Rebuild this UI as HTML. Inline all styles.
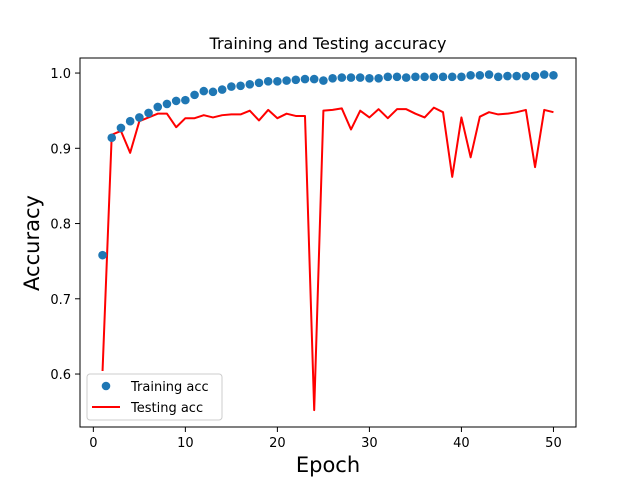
<!DOCTYPE html>
<html><head><meta charset="utf-8"><style>body{margin:0;background:#fff}svg{display:block;font-family:"DejaVu Sans","Liberation Sans",sans-serif}</style></head>
<body>
<svg id="chart" width="640" height="480" xmlns="http://www.w3.org/2000/svg">
<rect width="640" height="480" fill="#fff"/>
<g id="plot"></g>
</svg>
<script>
const epochs = Array.from({length:50},(_,i)=>i+1);
const trainAcc = [0.758,0.914,0.927,0.936,0.941,0.947,0.955,0.959,0.963,0.964,0.971,0.976,0.975,0.978,0.982,0.983,0.985,0.987,0.989,0.989,0.990,0.991,0.992,0.992,0.990,0.993,0.994,0.994,0.994,0.993,0.993,0.995,0.995,0.994,0.995,0.995,0.995,0.995,0.995,0.995,0.997,0.997,0.998,0.995,0.996,0.996,0.996,0.996,0.998,0.997];
const testAcc = [0.604,0.918,0.923,0.894,0.936,0.941,0.946,0.946,0.928,0.940,0.940,0.944,0.941,0.944,0.945,0.945,0.950,0.937,0.951,0.940,0.946,0.943,0.943,0.552,0.950,0.951,0.953,0.925,0.950,0.941,0.952,0.940,0.952,0.952,0.946,0.941,0.954,0.948,0.862,0.941,0.888,0.942,0.948,0.945,0.946,0.948,0.951,0.875,0.951,0.948];
const xTicks = [0,10,20,30,40,50];
const yTicks = [0.6,0.7,0.8,0.9,1.0];
const yTickLabels = ["0.6","0.7","0.8","0.9","1.0"];

const L=80,R=576,T=58,B=427;
const xMin=-1.45,xMax=52.45,yMin=0.5296,yMax=1.02;
const xs=v=>L+(v-xMin)/(xMax-xMin)*(R-L);
const ys=v=>B-(v-yMin)/(yMax-yMin)*(B-T);
const NS="http://www.w3.org/2000/svg";
const g=document.getElementById('plot');
function mk(tag,attrs,parent){const e=document.createElementNS(NS,tag);for(const k in attrs)e.setAttribute(k,attrs[k]);(parent||g).appendChild(e);return e;}
function txt(s,attrs){const e=mk('text',attrs);e.textContent=s;return e;}

const line=mk('polyline',{points:epochs.map((e,i)=>xs(e)+','+ys(testAcc[i])).join(' '),fill:'none',stroke:'#ff0000','stroke-width':2,'stroke-linejoin':'round'});


epochs.forEach((e,i)=>{
  const c=mk('circle',{cx:xs(e),cy:ys(trainAcc[i]),r:4.3,fill:'#1f77b4'});
  
  
});
const fr=mk('rect',{x:L,y:T,width:R-L,height:B-T,fill:'none',stroke:'#000','stroke-width':1});


xTicks.forEach(t=>{
  mk('line',{x1:xs(t),x2:xs(t),y1:B,y2:B+5,stroke:'#000','stroke-width':1});
  const e=txt(String(t),{x:xs(t),y:B+20,'font-size':13,'text-anchor':'middle'});
  
  
});
yTicks.forEach((t,i)=>{
  mk('line',{x1:L-5,x2:L,y1:ys(t),y2:ys(t),stroke:'#000','stroke-width':1});
  const e=txt(yTickLabels[i],{x:L-9,y:ys(t)+5,'font-size':13,'text-anchor':'end'});
  
  
});
</script>
<svg style="position:absolute;left:0;top:0" width="640" height="480" xmlns="http://www.w3.org/2000/svg" font-family="DejaVu Sans, Liberation Sans, sans-serif">
<text x="328" y="49" font-size="16" text-anchor="middle">Training and Testing accuracy</text>
<text x="328" y="472" font-size="21" text-anchor="middle">Epoch</text>
<text x="0" y="0" font-size="21" text-anchor="middle" transform="translate(39,243) rotate(-90)">Accuracy</text>
<g>
<rect x="87" y="374" width="135" height="46" rx="3" fill="#fff" fill-opacity="0.8" stroke="#ccc" stroke-width="1"/>
<circle cx="106" cy="386" r="4.3" fill="#1f77b4"/>
<text x="131" y="391" font-size="13">Training acc</text>
<line x1="92" x2="120" y1="407" y2="407" stroke="#ff0000" stroke-width="2"/>
<text x="131" y="412" font-size="13">Testing acc</text>
</g>
</svg>
</body></html>
